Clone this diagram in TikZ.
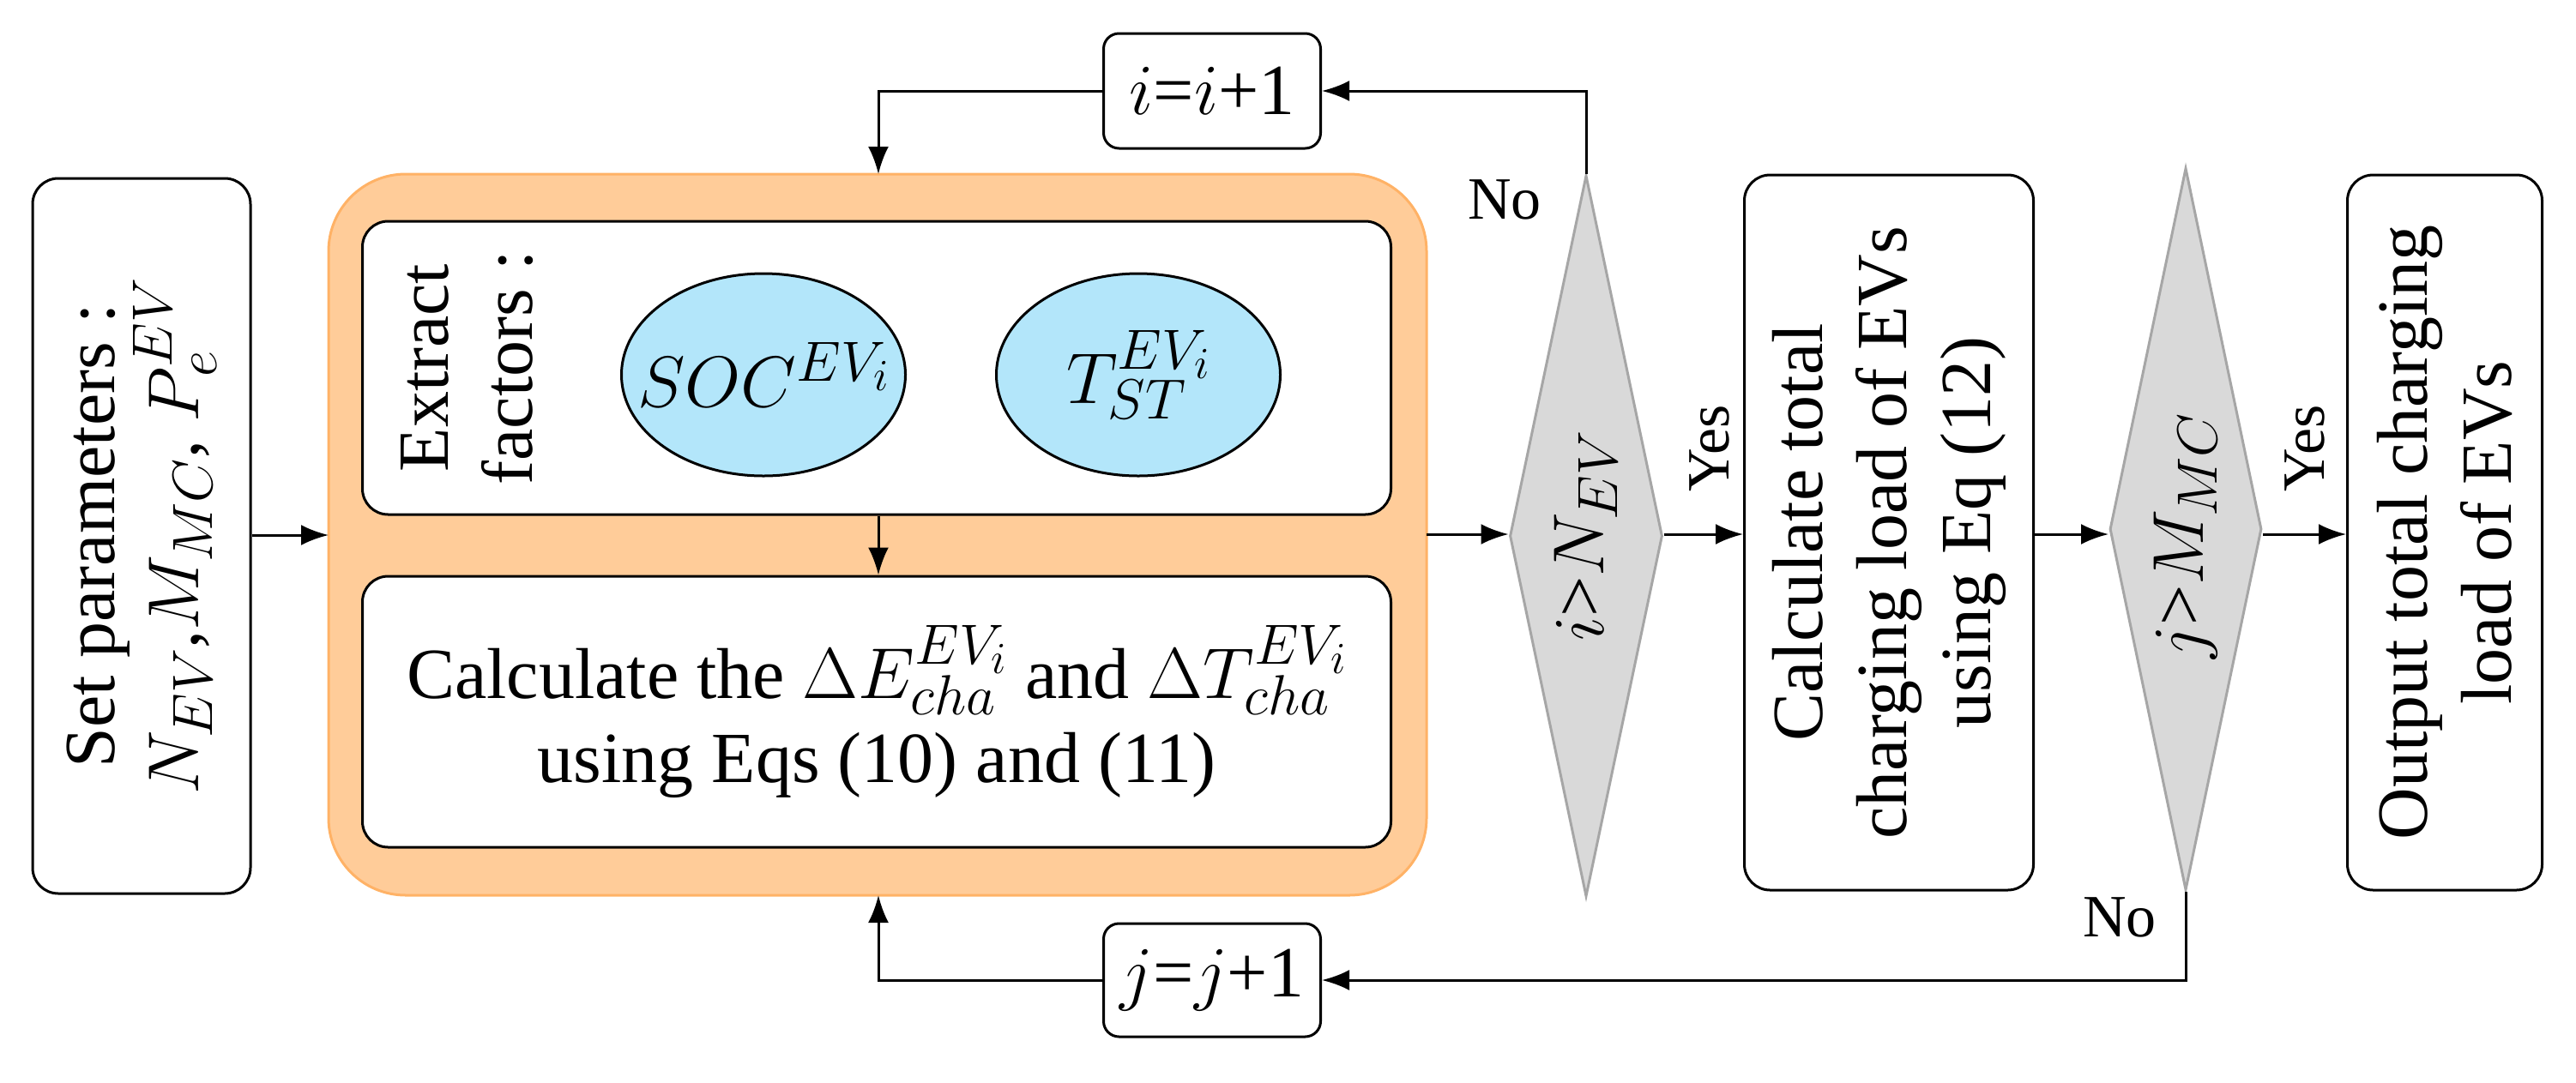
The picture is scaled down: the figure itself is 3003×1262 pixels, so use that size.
\RequirePackage{fix-cm}
\documentclass[tikz,border=0pt]{standalone}
\usepackage{fontspec}
\setmainfont{Liberation Serif}
\usetikzlibrary{shapes.geometric,arrows.meta}
\DeclareMathSizes{84}{84}{66}{52}
\DeclareMathSizes{70}{70}{50}{40}
\begin{document}
\begin{tikzpicture}[x=1pt,y=-1pt,
  box/.style={draw,line width=3pt,rounded corners=30pt,fill=white},
  dia/.style={draw=gray!70,fill=gray!30,line width=3pt},
  arr/.style={line width=3pt,-{Latex[length=32pt,width=24pt]}},
  txt/.style={font=\fontsize{84}{98}\selectfont,align=center},
  lbl/.style={font=\fontsize{70}{80}\selectfont}]
\useasboundingbox (0,0) rectangle (3003,1262);
% boxes
\node[box,minimum width=254pt,minimum height=834pt] (set) at (165,625) {};
\node[txt,rotate=90] at (165,625) {Set parameters :\\$N_{EV}$,$M_{MC}$, $P_e^{EV}$};
\draw[line width=3pt,draw=orange!60,fill=orange!40,rounded corners=90pt] (383,203) rectangle (1663,1044);
\node[box,minimum width=1199pt,minimum height=342pt] (ext) at (1022,429) {};
\node[txt,rotate=90] at (545,429) {Extract\\factors :};
\node[draw,line width=3pt,fill=cyan!30,ellipse,minimum width=331pt,minimum height=236pt] (e1) at (890,437) {};
\node[txt] at (890,437) {$SOC^{EV_i}$};
\node[draw,line width=3pt,fill=cyan!30,ellipse,minimum width=331pt,minimum height=236pt] (e2) at (1327,437) {};
\node[txt] at (1327,437) {$T_{ST}^{EV_i}$};
\node[box,minimum width=1199pt,minimum height=316pt] (calc) at (1022,830) {};
\node[txt] at (1022,830) {Calculate the $\Delta E_{cha}^{EV_i}$ and $\Delta T_{cha}^{EV_i}$\\using Eqs (10) and (11)};
\coordinate (orgR) at (1663,623);
\coordinate (orgT) at (1024,203);
\coordinate (orgB) at (1024,1044);
\coordinate (orgL) at (383,624);
\node[box,rounded corners=18pt,minimum width=253pt,minimum height=134pt] (ib) at (1413,106) {};
\node[txt] at (1413,106) {$i$=$i$+1};
\node[box,rounded corners=18pt,minimum width=253pt,minimum height=132pt] (jb) at (1413,1143) {};
\node[txt] at (1413,1143) {$j$=$j$+1};
\node[dia,diamond,minimum width=178pt,minimum height=841pt,inner sep=0pt] (d1) at (1849,625) {};
\node[txt,rotate=90] at (1849,625) {$i$>$N_{EV}$};
\node[dia,diamond,minimum width=177pt,minimum height=842pt,inner sep=0pt] (d2) at (2548,617) {};
\node[txt,rotate=90] at (2548,625) {$j$>$M_{MC}$};
\node[box,minimum width=337pt,minimum height=834pt] (tot) at (2202,621) {};
\node[txt,rotate=90] at (2202,621) {Calculate total\\charging load of EVs\\using Eq (12)};
\node[box,minimum width=227pt,minimum height=834pt] (out) at (2850,621) {};
\node[txt,rotate=90] at (2850,621) {Output total charging\\load of EVs};
% arrows
\draw[arr] (set.east|-orgL) -- (orgL);
\draw[arr] (ext.south-|orgT) -- (calc.north-|orgT);
\draw[arr] (ib.west) -- (1024,106) -- (orgT);
\draw[arr] (jb.west) -- (1024,1143) -- (orgB);
\draw[arr] (orgR) -- (d1.west|-orgR);
\draw[arr] (d1.east|-orgR) -- (tot.west|-orgR);
\draw[arr] (tot.east|-orgR) -- (d2.west|-orgR);
\draw[arr] (d2.east|-orgR) -- (out.west|-orgR);
\draw[arr] (d1.north) -- (1849,106) -- (ib.east);
\draw[arr] (d2.south) -- (2548,1143) -- (jb.east);
\node[lbl] at (1754,233) {No};
\node[lbl] at (2471,1070) {No};
\node[lbl,rotate=90] at (1993,523) {Yes};
\node[lbl,rotate=90] at (2687,523) {Yes};
\end{tikzpicture}
\end{document}
